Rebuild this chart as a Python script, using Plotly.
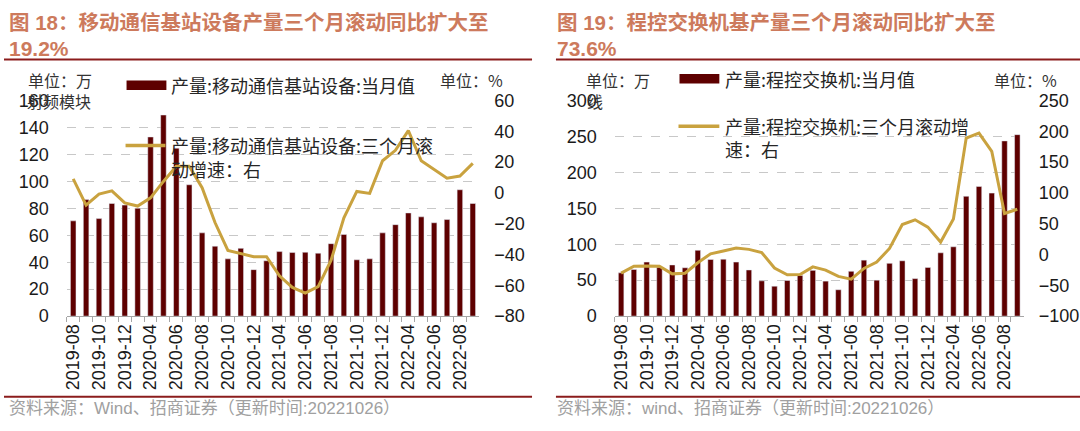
import plotly.graph_objects as go

# months shown on both charts (Jan/Feb slots are merged by the source)
months = [
    "2019-08", "2019-09", "2019-10", "2019-11", "2019-12",
    "2020-03", "2020-04", "2020-05", "2020-06", "2020-07", "2020-08",
    "2020-09", "2020-10", "2020-11", "2020-12",
    "2021-03", "2021-04", "2021-05", "2021-06", "2021-07", "2021-08",
    "2021-09", "2021-10", "2021-11", "2021-12",
    "2022-03", "2022-04", "2022-05", "2022-06", "2022-07", "2022-08", "2022-09",
]
tick_text = [m if i % 2 == 0 else "" for i, m in enumerate(months)]

# fig 18: mobile base station equipment
station_month = [70.7, 86.5, 72.4, 83.6, 82.4, 80.1, 133.0, 149.3, 124.7, 97.5, 61.8,
                 51.9, 42.5, 50.3, 34.5, 41.1, 47.9, 47.2, 47.4, 46.7, 53.8, 60.6,
                 41.8, 42.5, 61.8, 67.9, 76.6, 73.7, 69.3, 71.7, 93.8, 83.6]
station_3m = [9.2, -7.9, -0.7, 1.4, -6.5, -8.5, -3.2, 7.5, 17.4, 17.4, 3.4,
              -19.2, -37.3, -39.4, -41.4, -41.4, -53.8, -61.4, -65.1, -60.8, -43.9, -16.1,
              1.0, -0.3, 20.9, 27.7, 40.5, 20.9, 15.3, 9.6, 11.0, 19.2]

# fig 19: program-controlled switches
switch_month = [60.2, 65.0, 75.2, 68.0, 71.2, 67.3, 91.6, 78.8, 79.2, 75.2, 64.2,
                49.1, 41.6, 49.6, 56.6, 63.7, 48.7, 36.7, 62.4, 77.9, 50.0, 73.5,
                77.0, 52.2, 67.7, 88.1, 96.5, 166.8, 180.5, 171.2, 243.9, 252.6]
switch_3m = [-30.3, -19.0, -18.5, -19.0, -31.4, -30.3, -13.3, 1.2, 5.8, 10.5, 8.4,
             3.2, -22.0, -32.9, -32.4, -20.0, -25.2, -35.5, -40.1, -22.6, -12.3, 9.9,
             48.7, 56.4, 44.5, 20.2, 57.9, 189.1, 197.3, 167.4, 66.7, 73.6]

W, H = 1080, 431
BAR = "#5E0000"
GOLD = "#C9A23F"
RULE = "#8B1C1C"
NUM_FONT = "Liberation Sans, Arial, sans-serif"
CJK_FONT = "Noto Sans CJK SC, sans-serif"


def px(x):
    return x / W


def py(y):
    return 1 - y / H


fig = go.Figure()
fig.add_trace(go.Bar(x=months, y=station_month, marker_color=BAR, xaxis="x", yaxis="y"))
fig.add_trace(go.Scatter(x=months, y=station_3m, mode="lines", line=dict(color=GOLD, width=3),
                         xaxis="x", yaxis="y2"))
fig.add_trace(go.Bar(x=months, y=switch_month, marker_color=BAR, xaxis="x2", yaxis="y3"))
fig.add_trace(go.Scatter(x=months, y=switch_3m, mode="lines", line=dict(color=GOLD, width=3),
                         xaxis="x2", yaxis="y4"))

ydom = [py(321), py(95)]
xcommon = dict(type="category", tickmode="array", tickvals=months, ticktext=tick_text,
               tickangle=-90, ticks="outside", ticklen=5, tickcolor="#A6A6A6",
               tickson="boundaries", showline=True, linecolor="#A6A6A6", linewidth=1,
               showgrid=False, tickfont=dict(family=NUM_FONT, size=18, color="#1a1a1a"))
yleft = dict(showgrid=True, gridcolor="#C8C8C8", griddash="dash", zeroline=False,
             showline=False, ticks="", ticklabelstandoff=17,
             tickfont=dict(family=NUM_FONT, size=18, color="#1a1a1a"))
yright = dict(side="right", showgrid=False, zeroline=False, showline=False, ticks="",
              ticklabelstandoff=14, tickfont=dict(family=NUM_FONT, size=18, color="#1a1a1a"))

fig.update_layout(
    width=W, height=H,
    margin=dict(l=0, r=0, t=0, b=0),
    paper_bgcolor="white", plot_bgcolor="white",
    showlegend=False, bargap=0.57,
    xaxis=dict(domain=[px(63), px(477)], anchor="y", **xcommon),
    yaxis=dict(domain=ydom, anchor="x", range=[0, 160], dtick=20, **yleft),
    yaxis2=dict(overlaying="y", anchor="x", range=[-80, 60], dtick=20, **yright),
    xaxis2=dict(domain=[px(613), px(1023.5)], anchor="y3", **xcommon),
    yaxis3=dict(domain=ydom, anchor="x2", range=[0, 300], dtick=50, **yleft),
    yaxis4=dict(overlaying="y3", anchor="x2", range=[-100, 250], dtick=50, **yright),
)

# titles, units, hand-placed legends and source notes
texts = [
    ("<b>图 18：移动通信基站设备产量三个月滚动同比扩大至</b>", 3, 13.5, 20.5, "#CD7A5C", NUM_FONT + ", " + CJK_FONT),
    ("<b>19.2%</b>", 3, 40, 21, "#CD7A5C", NUM_FONT),
    ("<b>图 19：程控交换机基产量三个月滚动同比扩大至</b>", 553, 13.5, 20.5, "#CD7A5C", NUM_FONT + ", " + CJK_FONT),
    ("<b>73.6%</b>", 553, 40, 21, "#CD7A5C", NUM_FONT),
    ("单位：万", 22, 73, 16, "#333333", CJK_FONT),
    ("射频模块", 21, 95, 16, "#333333", CJK_FONT),
    ("单位：%", 436, 73, 16, "#333333", CJK_FONT),
    ("单位：万", 582, 73, 16, "#333333", CJK_FONT),
    ("线", 583, 95, 16, "#333333", CJK_FONT),
    ("单位：%", 992, 73, 16, "#333333", CJK_FONT),
    ("产量:移动通信基站设备:当月值", 166, 79, 18, "#262626", CJK_FONT),
    ("产量:移动通信基站设备:三个月滚", 166, 142, 18, "#262626", CJK_FONT),
    ("动增速：右", 166, 167, 18, "#262626", CJK_FONT),
    ("产量:程控交换机:当月值", 722, 72, 18, "#262626", CJK_FONT),
    ("产量:程控交换机:三个月滚动增", 722, 122, 18, "#262626", CJK_FONT),
    ("速：右", 722, 146, 18, "#262626", CJK_FONT),
    ("资料来源：Wind、招商证券（更新时间:20221026）", 3, 418, 17, "#A0A0A0", NUM_FONT + ", " + CJK_FONT),
    ("资料来源：wind、招商证券（更新时间:20221026）", 553, 418, 17, "#A0A0A0", NUM_FONT + ", " + CJK_FONT),
]
for t, x, y, size, color, fam in texts:
    fig.add_annotation(text=t, xref="paper", yref="paper", x=px(x), y=py(y),
                       xanchor="left", yanchor="middle", showarrow=False,
                       font=dict(family=fam, size=size, color=color))

# red rules under titles and above sources
for x0, x1 in [(0, 530), (554, 1080)]:
    for y in (52, 405.5):
        fig.add_shape(type="line", xref="paper", yref="paper", x0=px(x0), x1=px(x1),
                      y0=py(y), y1=py(y), line=dict(color=RULE, width=2))

# legend keys
for x0, x1, y0, y1 in [(123, 163, 74, 84), (678, 718, 67, 77)]:
    fig.add_shape(type="rect", xref="paper", yref="paper", x0=px(x0), x1=px(x1),
                  y0=py(y1), y1=py(y0), fillcolor=BAR, line=dict(width=0))
for x0, x1, y in [(122, 162, 142), (677, 718, 122)]:
    fig.add_shape(type="line", xref="paper", yref="paper", x0=px(x0), x1=px(x1),
                  y0=py(y), y1=py(y), line=dict(color=GOLD, width=3.5))

fig.write_html("out.html", config={"displayModeBar": False},
               post_script="document.body.style.margin='0';")
